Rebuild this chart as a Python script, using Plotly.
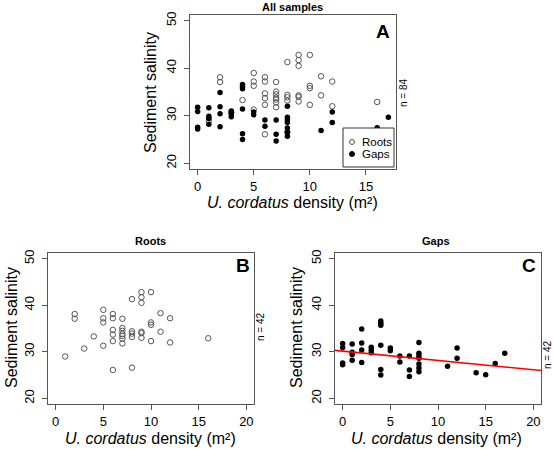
import plotly.graph_objects as go

# ---- data ----
roots_density = [1, 2, 2, 3, 4,
                 5, 5, 5, 5,
                 6, 6, 6, 6, 6, 6,
                 7, 7, 7, 7, 7, 7, 7,
                 8, 8, 8, 8, 8,
                 9, 9, 9, 9, 9, 9,
                 10, 10, 10, 10,
                 11, 11, 12, 12, 16]
roots_salinity = [29.0, 38.1, 37.1, 30.7, 33.3,
                  39.0, 37.2, 36.3, 31.3,
                  38.1, 37.2, 34.7, 33.7, 32.3, 26.1,
                  37.1, 35.1, 34.5, 33.8, 33.4, 32.8, 31.8,
                  41.3, 34.4, 33.9, 33.2, 26.6,
                  42.8, 41.7, 40.5, 34.3, 34.0, 33.0,
                  42.8, 36.3, 35.8, 32.3,
                  38.3, 34.3, 37.2, 32.0, 32.9]

gaps_density = [0, 0, 0, 0,
                1, 1, 1, 1,
                2, 2, 2, 2,
                3, 3, 3,
                4, 4, 4, 4, 4, 4,
                5, 5, 6, 6,
                7, 7, 7,
                8, 8, 8, 8, 8, 8, 8,
                11, 12, 12, 14, 15, 16, 17]
gaps_salinity = [31.8, 30.9, 27.6, 27.2,
                 31.7, 29.9, 29.4, 28.2,
                 34.9, 31.9, 30.4, 27.7,
                 31.0, 30.4, 29.8,
                 36.6, 36.1, 35.7, 31.4, 26.2, 25.0,
                 30.8, 30.2, 29.1, 27.8,
                 29.1, 26.1, 24.7,
                 32.0, 29.7, 29.1, 28.6, 27.4, 26.5, 25.7,
                 26.9, 30.8, 28.6, 25.5, 25.1, 27.5, 29.7]

fit_intercept = 30.15
fit_slope = -0.2
fit_x = [-1, 21]

panel_titles = ["All samples", "Roots", "Gaps"]
panel_letters = ["A", "B", "C"]
n_labels = ["n = 84", "n = 42", "n = 42"]
legend_labels = ["Roots", "Gaps"]
x_label = "<i>U. cordatus</i> density (m²)"
y_label = "Sediment salinity"

W, H = 553, 449
FONT = "Liberation Sans, Arial, sans-serif"


def px_x(p):
    return p / W


def px_y(p):
    return 1 - p / H


# panel boxes in pixels (left, right, top, bottom)
boxes = {
    "A": (190, 396, 15, 169),
    "B": (48, 254, 253, 404),
    "C": (335, 541, 253, 404),
}

fig = go.Figure()

open_marker = dict(symbol="circle-open", size=5.5, color="#555555", line=dict(width=1, color="#555555"))
fill_marker = dict(symbol="circle", size=5.5, color="black")

# Panel A
fig.add_trace(go.Scatter(x=roots_density, y=roots_salinity, mode="markers", marker=open_marker,
                         name=legend_labels[0], xaxis="x", yaxis="y", showlegend=False))
fig.add_trace(go.Scatter(x=gaps_density, y=gaps_salinity, mode="markers", marker=fill_marker,
                         name=legend_labels[1], xaxis="x", yaxis="y", showlegend=False))
# Panel B
fig.add_trace(go.Scatter(x=roots_density, y=roots_salinity, mode="markers", marker=open_marker,
                         xaxis="x2", yaxis="y2", showlegend=False))
# Panel C
fig.add_trace(go.Scatter(x=gaps_density, y=gaps_salinity, mode="markers", marker=fill_marker,
                         xaxis="x3", yaxis="y3", showlegend=False))
fig.add_trace(go.Scatter(x=fit_x, y=[fit_intercept + fit_slope * v for v in fit_x], mode="lines",
                         line=dict(color="red", width=1.6), xaxis="x3", yaxis="y3", showlegend=False))

axis_common = dict(showline=True, mirror=True, linecolor="#555555", linewidth=1,
                   ticks="outside", ticklen=5, tickcolor="#555555", showgrid=False, zeroline=False,
                   automargin=False,
                   tickfont=dict(family=FONT, size=13, color="black"))

layout_axes = {}
names = [("xaxis", "yaxis", "A", "x", "y"), ("xaxis2", "yaxis2", "B", "x2", "y2"),
         ("xaxis3", "yaxis3", "C", "x3", "y3")]
for xa, ya, key, xr, yr in names:
    l, r, t, b = boxes[key]
    if key == "A":
        xrange = [-0.68, 17.68]
        xt = [0, 5, 10, 15]
    else:
        xrange = [-0.8, 20.8]
        xt = [0, 5, 10, 15, 20]
    layout_axes[xa] = dict(axis_common, domain=[px_x(l), px_x(r)], range=xrange, tickvals=xt,
                           anchor=yr)
    layout_axes[ya] = dict(axis_common, domain=[px_y(b), px_y(t)], range=[18.8, 51.2],
                           tickvals=[20, 30, 40, 50], tickangle=-90, anchor=xr,
                           ticklabelstandoff=3)

annotations = []
title_pos = {"A": (292, 7), "B": (150, 241), "C": (436, 241)}
letter_pos = {"A": (383, 32), "B": (243, 265), "C": (529, 265)}
n_pos = {"A": (403, 93), "B": (260, 327), "C": (547, 355)}
xl_pos = {"A": (292, 203), "B": (150, 438), "C": (436, 438)}
yl_pos = {"A": (150, 93), "B": (11, 328), "C": (296, 328)}


def ann(pos, text, size, angle=0, xanchor="center"):
    x, y = pos
    return dict(x=px_x(x), y=px_y(y), xref="paper", yref="paper", text=text, textangle=angle,
                xanchor=xanchor, yanchor="middle", showarrow=False,
                font=dict(family=FONT, size=size, color="black"))


for i, key in enumerate(["A", "B", "C"]):
    annotations.append(ann(title_pos[key], "<b>%s</b>" % panel_titles[i], 11))
    annotations.append(ann(letter_pos[key], "<b>%s</b>" % panel_letters[i], 19))
    annotations.append(ann(n_pos[key], n_labels[i], 10, -90))
    annotations.append(ann(xl_pos[key], x_label, 16))
    annotations.append(ann(yl_pos[key], y_label, 16, -90))

# compact R-style legend for panel A (box, symbols, labels)
leg_l, leg_r, leg_t, leg_b = 343, 394, 128, 167
leg_rows = [142, 154]
shapes = [dict(type="rect", xref="paper", yref="paper",
               x0=px_x(leg_l), x1=px_x(leg_r), y0=px_y(leg_b), y1=px_y(leg_t),
               line=dict(color="#333333", width=1), fillcolor="white", layer="above")]
sym_x = 352
r = 2.5
for j, yy in enumerate(leg_rows):
    shapes.append(dict(type="circle", xref="paper", yref="paper",
                       x0=px_x(sym_x - r), x1=px_x(sym_x + r), y0=px_y(yy + r), y1=px_y(yy - r),
                       line=dict(color="#555555" if j == 0 else "black", width=1),
                       fillcolor="rgba(0,0,0,0)" if j == 0 else "black", layer="above"))
    annotations.append(ann((360, yy), legend_labels[j], 11.5, xanchor="left"))

fig.update_layout(
    width=W, height=H, margin=dict(l=0, r=0, t=0, b=0, autoexpand=False),
    plot_bgcolor="white", paper_bgcolor="white",
    annotations=annotations, shapes=shapes, showlegend=False,
    **layout_axes,
)

fig.write_html("out.html", config={"displayModeBar": False},
               post_script="document.body.style.margin='0';document.body.style.overflow='hidden';")
